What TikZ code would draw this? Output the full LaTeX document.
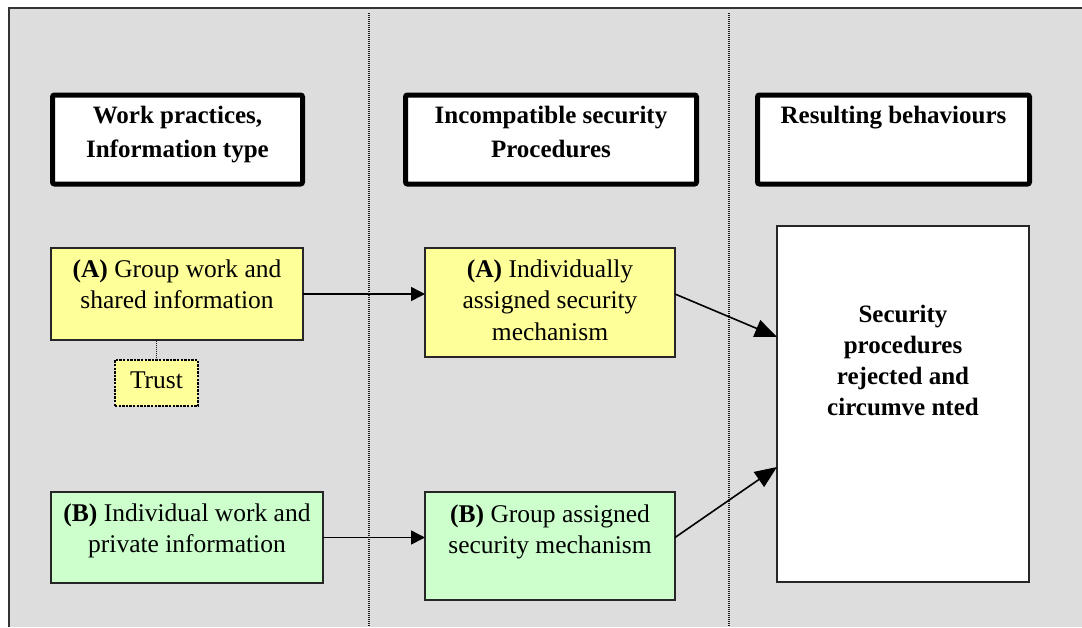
\documentclass[tikz,border=0pt]{standalone}
\usepackage{fontspec}
\setmainfont{Liberation Serif}
\usetikzlibrary{arrows.meta,positioning}
\definecolor{panelgray}{RGB}{221,221,221}
\definecolor{noteyellow}{RGB}{255,255,153}
\definecolor{notegreen}{RGB}{204,255,204}
\newcommand{\hdrfont}{\fontsize{25}{34}\selectfont\bfseries}
\newcommand{\txtfont}{\fontsize{25.5}{31.5}\selectfont}
\newcommand{\resfont}{\fontsize{25}{31}\selectfont\bfseries}

\begin{document}
\begin{tikzpicture}[x=1pt,y=-1pt,
    hdrbox/.style={draw=black, line width=5pt, rounded corners=2pt, fill=white,
      minimum height=89pt, inner sep=0pt, outer sep=0pt},
    hdrtext/.style={font=\hdrfont, align=center, inner sep=0pt},
    notebox/.style={draw=black!85, line width=1.3pt, inner sep=0pt, outer sep=0pt},
    notetext/.style={font=\txtfont, align=center, inner sep=0pt},
    sepline/.style={line width=1.2pt, draw=black!90, dash pattern=on 1pt off 1pt},
    dotlink/.style={line width=1.2pt, draw=black!90, dash pattern=on 1pt off 1pt},
    arr/.style={line width=1.5pt, -{Triangle[length=14pt,width=14pt]}},
    bigarr/.style={line width=1.6pt, -{Triangle[length=22pt,width=18pt]}}]

  % Page and panel
  \useasboundingbox (0,0) rectangle (1082,627);
  \fill[panelgray] (9,8) rectangle (1082,627);
  \draw[line width=1.2pt, draw=black!80] (1082,8) -- (9,8) -- (9,627);

  % Column separators
  \foreach \x in {369,729} {
    \draw[sepline] (\x,13) -- (\x,627);
  }

  % Column headings
  \node[hdrbox, minimum width=250pt] (hdrwork) at (177.5,139.5) {};
  \node[hdrbox, minimum width=291pt] (hdrproc) at (551,139.5) {};
  \node[hdrbox, minimum width=272pt] (hdrresult) at (893.5,139.5) {};
  \node[hdrtext, below=11pt of hdrwork.north] (hdrworktxt) {Work practices,\\Information type};
  \node[hdrtext, below=11pt of hdrproc.north] (hdrproctxt) {Incompatible security\\Procedures};
  \node[hdrtext, below=11pt of hdrresult.north] (hdrresulttxt) {Resulting behaviours};

  % Case A (yellow)
  \node[notebox, fill=noteyellow, minimum width=252pt, minimum height=92pt] (grpwork) at (177,294) {};
  \node[notetext, below=11.5pt of grpwork.north] (grpworktxt) {\textbf{(A)} Group work and\\shared information};
  \node[notebox, fill=noteyellow, minimum width=250pt, minimum height=109pt] (indivmech) at (550,302.5) {};
  \node[notetext, below=11.5pt of indivmech.north] (indivmechtxt) {\textbf{(A)} Individually\\assigned security\\mechanism};

  % Trust note
  \node[draw=black, line width=2.4pt, dash pattern=on 2.4pt off 1.2pt, fill=noteyellow,
    minimum width=83pt, minimum height=46pt, inner sep=0pt, outer sep=0pt,
    text height=17pt, text depth=6pt, font=\txtfont] (trust) at (156.5,383) {Trust};
  \draw[dotlink] (trust.north) -- (trust.north |- grpwork.south);

  % Case B (green)
  \node[notebox, fill=notegreen, minimum width=272pt, minimum height=91pt] (indwork) at (187,537.5) {};
  \node[notetext, below=11.5pt of indwork.north] (indworktxt) {\textbf{(B)} Individual work and\\private information};
  \node[notebox, fill=notegreen, minimum width=250pt, minimum height=108pt] (grpmech) at (550,546) {};
  \node[notetext, below=12.5pt of grpmech.north] (grpmechtxt) {\textbf{(B)} Group assigned\\security mechanism};

  % Result
  \node[notebox, fill=white, minimum width=252pt, minimum height=356pt] (results) at (903,404) {};
  \node[font=\resfont, align=center, inner sep=0pt, below=79pt of results.north] (resultstxt)
    {Security\\procedures\\rejected and\\circumve nted};

  % Arrows
  \draw[arr] (grpwork.east) -- (grpwork.east -| indivmech.west);
  \draw[arr] (indwork.east) -- (indwork.east -| grpmech.west);
  \draw[bigarr] (indivmech.east |- grpwork.east) -- ([yshift=67pt]results.west);
  \draw[bigarr] (grpmech.east |- indwork.east) -- ([yshift=-63pt]results.west);
\end{tikzpicture}
\end{document}
